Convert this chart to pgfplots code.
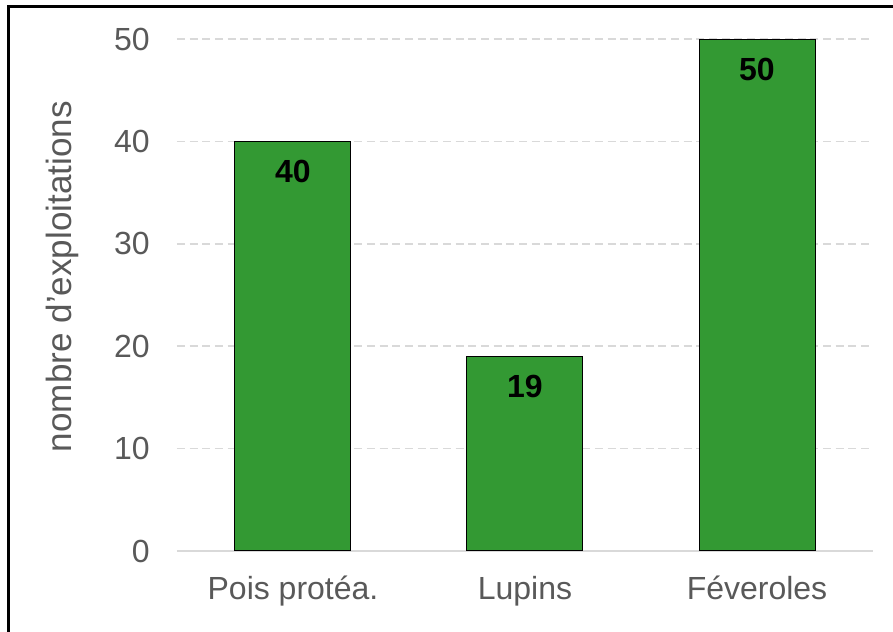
\documentclass[border=0pt]{standalone}
\usepackage{pgfplots}
\pgfplotsset{compat=1.18}
\usepackage{fontspec}
\setmainfont{Liberation Sans}
\definecolor{bargreen}{RGB}{51,153,51}
\definecolor{txtgray}{RGB}{89,89,89}
\definecolor{gridgray}{RGB}{217,217,217}
\begin{document}
\begin{tikzpicture}
\useasboundingbox (-132.75pt,-60.75pt) rectangle (537pt,413.25pt);
\begin{axis}[
  at={(0,0)}, anchor=south west,
  scale only axis,
  width=522pt, height=384pt,
  xmin=-0.5, xmax=2.5,
  ymin=0, ymax=50,
  xtick={0,1,2},
  xticklabels={Pois protéa.,Lupins,Féveroles},
  ytick={0,10,20,30,40,50},
  /pgf/number format/assume math mode=true,
  major tick length=0pt,
  tick label style={font=\fontsize{24}{28}\selectfont, text=txtgray, inner sep=0pt},
  yticklabel style={anchor=east, xshift=-20.25pt},
  xticklabel style={anchor=north, yshift=-18.75pt},
  axis lines*=left,
  axis line style={-},
  y axis line style={draw=none},
  x axis line style={draw=gridgray, line width=1.5pt},
  ymajorgrids,
  grid style={draw=gridgray, line width=1.125pt, dash pattern=on 6pt off 3.5pt},
  ylabel={nombre d’exploitations},
  ylabel style={at={(axis description cs:-0.165,0.536)}, anchor=center, font=\fontsize{26.3}{30}\selectfont, text=txtgray},
  nodes near coords,
  nodes near coords style={font=\fontsize{24}{28}\selectfont\bfseries, text=black, anchor=center, yshift=-22.5pt},
]
\addplot[ybar, bar width=0.5, fill=bargreen, draw=black, line width=0.75pt]
  coordinates {(0,40) (1,19) (2,50)};
\end{axis}
\clip (-132.75pt,-60.75pt) rectangle (537pt,413.25pt);
\draw[line width=2.25pt] (-126.375pt,-100pt) -- (-126.375pt,408.375pt) -- (600pt,408.375pt);
\end{tikzpicture}
\end{document}
